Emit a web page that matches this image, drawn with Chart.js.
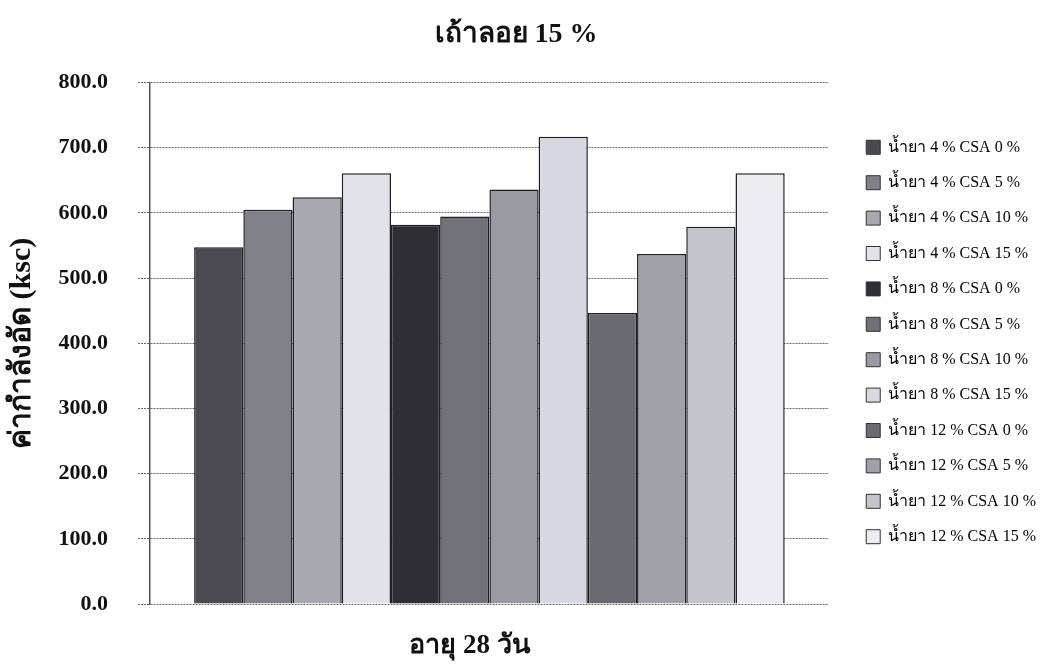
<!DOCTYPE html>
<html>
<head>
<meta charset="utf-8">
<script src="https://cdn.jsdelivr.net/npm/chart.js@4/dist/chart.umd.min.js"></script>
<style>
  html, body { margin: 0; padding: 0; background: #ffffff; }
  #wrap { width: 1045px; height: 664px; position: relative; }
</style>
</head>
<body>
<div id="wrap"><canvas id="c"></canvas></div>
<script>
// Compressive strength at 28 days, fly ash 15 %
const categories = ['อายุ 28 วัน'];
const seriesNames = [
  'น้ำยา 4 % CSA 0 %', 'น้ำยา 4 % CSA 5 %', 'น้ำยา 4 % CSA 10 %', 'น้ำยา 4 % CSA 15 %',
  'น้ำยา 8 % CSA 0 %', 'น้ำยา 8 % CSA 5 %', 'น้ำยา 8 % CSA 10 %', 'น้ำยา 8 % CSA 15 %',
  'น้ำยา 12 % CSA 0 %', 'น้ำยา 12 % CSA 5 %', 'น้ำยา 12 % CSA 10 %', 'น้ำยา 12 % CSA 15 %'
];
const seriesValues = [547.5, 604.8, 624.0, 661.0, 582.0, 594.5, 636.0, 717.0, 446.5, 537.0, 579.0, 661.0];
const seriesColors = [
  '#4a4a50', '#808088', '#a8a8b0', '#e2e2ea',
  '#2e2e34', '#717179', '#9a9aa2', '#d8d8e2',
  '#6a6a72', '#a0a0a8', '#c4c4cc', '#ececf2'
];
const yTicks = [0, 100, 200, 300, 400, 500, 600, 700, 800];

const serif = "'Liberation Serif', 'Times New Roman', serif";

const datasets = seriesNames.map((name, i) => ({
  label: name,
  data: [seriesValues[i]],
  backgroundColor: seriesColors[i],
  borderColor: '#1e1e22',
  borderWidth: 1.5,
  borderSkipped: 'bottom',
  categoryPercentage: 0.87,
  barPercentage: 1.0
}));

// Leave a wider gap between the plot and the legend entries
const legendOffset = {
  id: 'legendOffset',
  afterLayout(chart) {
    const lg = chart.legend;
    if (lg) {
      lg.left += 18;
      lg.right += 18;
      lg.top += 6;
      lg.bottom += 6;
    }
  }
};

new Chart(document.getElementById('c'), {
  type: 'bar',
  data: { labels: categories, datasets },
  plugins: [legendOffset],
  options: {
    responsive: true,
    maintainAspectRatio: false,
    animation: false,
    layout: { padding: { left: 4, right: 17, top: 8, bottom: 0 } },
    plugins: {
      title: {
        display: true,
        text: 'เถ้าลอย 15 %',
        color: '#111',
        font: { family: serif, size: 28, weight: 'bold' },
        padding: { top: 10, bottom: 31 }
      },
      legend: {
        position: 'right',
        align: 'center',
        labels: {
          color: '#222',
          font: { family: serif, size: 16 },
          boxWidth: 14,
          boxHeight: 14,
          padding: 19.4,
          generateLabels: (chart) => chart.data.datasets.map((ds, i) => ({
            text: ds.label,
            fillStyle: ds.backgroundColor,
            strokeStyle: '#333',
            lineWidth: 1,
            datasetIndex: i
          }))
        }
      },
      tooltip: { enabled: false }
    },
    scales: {
      x: {
        afterFit: (scale) => { scale.height = 60; },
        grid: { display: false, drawTicks: false },
        border: { display: false },
        ticks: {
          color: '#111',
          padding: 26,
          labelOffset: -20,
          font: { family: serif, size: 27, weight: 'bold' }
        }
      },
      y: {
        min: 0,
        max: 800,
        afterBuildTicks: (axis) => { axis.ticks = yTicks.map(v => ({ value: v })); },
        afterFit: (scale) => { scale.width = 146; },
        title: {
          display: true,
          text: 'ค่ากำลังอัด (ksc)',
          color: '#111',
          font: { family: serif, size: 30, weight: 'bold' },
          padding: { top: 0, bottom: 16 }
        },
        grid: {
          color: '#6a6a6a',
          lineWidth: 1,
          tickLength: 12,
          tickColor: '#6a6a6a',
          tickBorderDash: [2, 1]
        },
        border: { display: true, color: '#555', width: 1.5, dash: [2, 1] },
        ticks: {
          color: '#111',
          padding: 30,
          font: { family: serif, size: 22, weight: 'bold' },
          callback: (v) => Number(v).toFixed(1)
        }
      }
    }
  }
});
</script>
</body>
</html>
